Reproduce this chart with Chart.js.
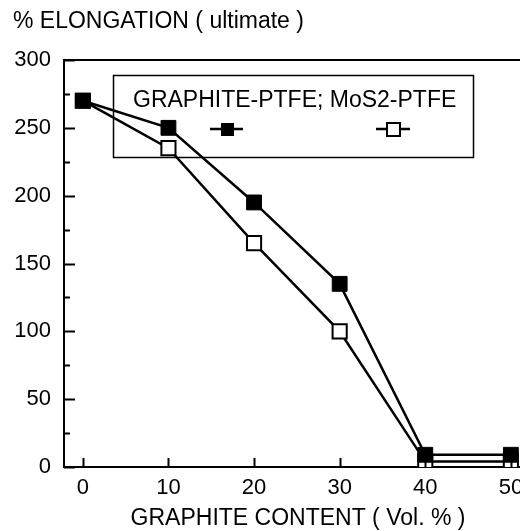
<!DOCTYPE html>
<html>
<head>
<meta charset="utf-8">
<script src="https://cdn.jsdelivr.net/npm/chart.js@4"></script>
<style>
  html, body { margin: 0; padding: 0; background: #fff; overflow: hidden; }
  canvas { display: block; }
</style>
</head>
<body>
<canvas id="myChart" width="540" height="531"></canvas>
<script>
// values
var content = [0, 10, 20, 30, 40, 50];
var graphitePtfe = [270, 250, 195, 135, 9, 9];
var mos2Ptfe = [270, 235, 165, 100, 4, 4];
var xTicks = [0, 10, 20, 30, 40, 50];
var yTicks = [0, 50, 100, 150, 200, 250, 300];
var yMinorTicks = [25, 75, 125, 175, 225, 275];

var FONT = '"Liberation Sans", Arial, sans-serif';

function points(ys) {
    return content.map(function (x, i) { return {x: x, y: ys[i]}; });
}

// inward ticks, top frame, titles and the boxed legend
var extras = {
    id: "extras",
    afterDraw: function (chart) {
        var ctx = chart.ctx;
        var a = chart.chartArea;
        var xs = chart.scales.x, ys = chart.scales.y;
        ctx.save();
        ctx.strokeStyle = "#000";
        ctx.lineWidth = 2;
        ctx.beginPath();
        ctx.moveTo(a.left - 1, a.top);
        ctx.lineTo(a.right, a.top);
        yTicks.forEach(function (v) {
            var py = Math.round(ys.getPixelForValue(v)) + 0.5;
            ctx.moveTo(a.left, py);
            ctx.lineTo(a.left + 11, py);
        });
        yMinorTicks.forEach(function (v) {
            var py = Math.round(ys.getPixelForValue(v)) + 0.5;
            ctx.moveTo(a.left, py);
            ctx.lineTo(a.left + 6, py);
        });
        xTicks.forEach(function (v) {
            var px = Math.round(xs.getPixelForValue(v)) + 0.5;
            ctx.moveTo(px, a.bottom);
            ctx.lineTo(px, a.bottom - 9);
        });
        ctx.stroke();

        ctx.fillStyle = "#000";
        ctx.font = "23px " + FONT;
        ctx.textBaseline = "alphabetic";
        ctx.textAlign = "left";
        ctx.fillText("% ELONGATION ( ultimate )", 13, 28);
        ctx.textAlign = "center";
        ctx.fillText("GRAPHITE CONTENT ( Vol. % )", 298, 525);

        // legend
        ctx.lineWidth = 1.5;
        ctx.strokeRect(113.5, 75.5, 360, 82);
        ctx.textAlign = "left";
        ctx.fillText("GRAPHITE-PTFE; MoS2-PTFE", 133, 107);
        ctx.lineWidth = 2.5;
        ctx.beginPath();
        ctx.moveTo(210, 129); ctx.lineTo(243, 129);
        ctx.moveTo(376, 129); ctx.lineTo(410, 129);
        ctx.stroke();
        ctx.fillRect(221, 123, 13, 13);
        ctx.fillStyle = "#fff";
        ctx.fillRect(387, 123, 13, 13);
        ctx.lineWidth = 2;
        ctx.strokeRect(387, 123, 13, 13);
        ctx.restore();
    }
};

new Chart("myChart", {
    type: "line",
    data: {
        datasets: [{
            label: "GRAPHITE-PTFE",
            data: points(graphitePtfe),
            borderColor: "#000",
            borderWidth: 2.5,
            backgroundColor: "#000",
            pointStyle: "rect",
            pointRadius: 10.5,
            pointBorderWidth: 1,
            pointBorderColor: "#000",
            pointBackgroundColor: "#000"
        }, {
            label: "MoS2-PTFE",
            data: points(mos2Ptfe),
            borderColor: "#000",
            borderWidth: 2.5,
            backgroundColor: "#fff",
            pointStyle: "rect",
            pointRadius: 10,
            pointBorderWidth: 2,
            pointBorderColor: "#000",
            pointBackgroundColor: "#fff"
        }]
    },
    options: {
        responsive: false,
        animation: false,
        events: [],
        layout: {padding: {top: 60, left: 0, right: 11, bottom: 0}},
        plugins: {
            legend: {display: false},
            title: {display: false},
            tooltip: {enabled: false}
        },
        scales: {
            x: {
                type: "linear",
                min: -2.2,
                max: 52,
                afterBuildTicks: function (s) { s.ticks = xTicks.map(function (v) { return {value: v}; }); },
                afterFit: function (s) { s.height = 64; },
                grid: {display: false, drawTicks: false, tickLength: 0},
                border: {display: true, color: "#000", width: 2},
                ticks: {color: "#000", font: {family: FONT, size: 22}, padding: 8, maxRotation: 0}
            },
            y: {
                min: 0,
                max: 300,
                afterBuildTicks: function (s) { s.ticks = yTicks.map(function (v) { return {value: v}; }); },
                afterFit: function (s) { s.width = 64; },
                grid: {display: false, drawTicks: false, tickLength: 0},
                border: {display: true, color: "#000", width: 2},
                ticks: {color: "#000", font: {family: FONT, size: 22}, padding: 13}
            }
        }
    },
    plugins: [extras]
});
</script>
</body>
</html>
